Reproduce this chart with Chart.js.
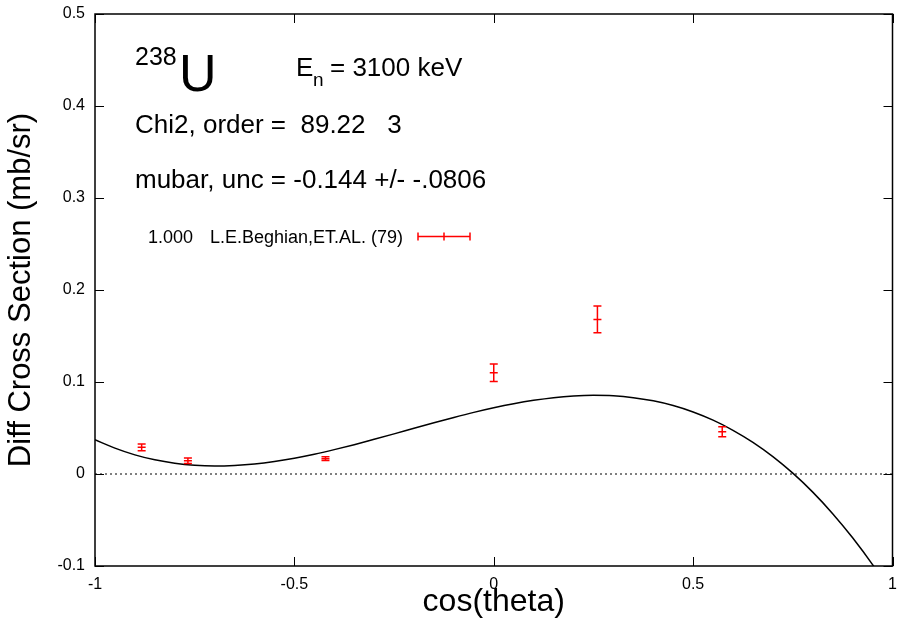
<!DOCTYPE html>
<html>
<head>
<meta charset="utf-8">
<script src="https://cdn.jsdelivr.net/npm/chart.js@4.4.0/dist/chart.umd.min.js"></script>
<style>
  html, body { margin: 0; padding: 0; background: #fff; }
  #wrap { width: 898px; height: 621px; }
</style>
</head>
<body>
<div id="wrap"><canvas id="legChart" width="898" height="621"></canvas></div>
<script>
// measured points (cos(theta), mb/sr, +/- unc)
const dataX = [-0.883, -0.767, -0.422, 0.0, 0.26, 0.573];
const dataY = [0.029, 0.0145, 0.0167, 0.110, 0.168, 0.046];
const dataErr = [0.0036, 0.003, 0.002, 0.0095, 0.0145, 0.0054];

// fitted curve
const fitX = [-1, -0.95, -0.9, -0.85, -0.8, -0.75, -0.7, -0.65, -0.6, -0.55, -0.5, -0.45, -0.4, -0.35, -0.3,
  -0.25, -0.2, -0.15, -0.1, -0.05, 0, 0.05, 0.1, 0.15, 0.2, 0.25, 0.3, 0.35, 0.4, 0.45, 0.5, 0.55, 0.6,
  0.65, 0.7, 0.75, 0.8, 0.85, 0.9, 0.95, 1.0];
const fitY = [0.0373, 0.0281, 0.0208, 0.0154, 0.0117, 0.0095, 0.0087, 0.0093, 0.0109, 0.0136, 0.0172,
  0.0215, 0.0265, 0.0319, 0.0377, 0.0436, 0.0497, 0.0557, 0.0615, 0.0670, 0.0720, 0.0764, 0.0801, 0.0830,
  0.0848, 0.0855, 0.0850, 0.0830, 0.0795, 0.0744, 0.0674, 0.0585, 0.0475, 0.0344, 0.0189, 0.0009,
  -0.0197, -0.0431, -0.0693, -0.0985, -0.1309];

const xTicks = [-1, -0.5, 0, 0.5, 1];
const yTicks = [-0.1, 0, 0.1, 0.2, 0.3, 0.4, 0.5];

const FONT = '"Liberation Sans", Arial, Helvetica, sans-serif';

const framePlugin = {
    id: 'frame',
    afterDatasetsDraw(chart) {
        const ctx = chart.ctx;
        const a = chart.chartArea;
        const xs = chart.scales.x, ys = chart.scales.y;
        ctx.save();

        // error bars
        ctx.strokeStyle = '#ff0000';
        ctx.lineWidth = 1.5;
        for (let i = 0; i < dataX.length; i++) {
            const px = xs.getPixelForValue(dataX[i]);
            const top = ys.getPixelForValue(dataY[i] + dataErr[i]);
            const bot = ys.getPixelForValue(dataY[i] - dataErr[i]);
            ctx.beginPath();
            ctx.moveTo(px, top); ctx.lineTo(px, bot);
            ctx.moveTo(px - 4, top); ctx.lineTo(px + 4, top);
            ctx.moveTo(px - 4, bot); ctx.lineTo(px + 4, bot);
            ctx.stroke();
        }

        // frame and inward ticks on all sides
        ctx.strokeStyle = '#000';
        ctx.lineWidth = 1.5;
        ctx.strokeRect(a.left, a.top, a.right - a.left, a.bottom - a.top);
        ctx.lineWidth = 1;
        ctx.beginPath();
        xTicks.forEach(v => {
            const px = Math.round(xs.getPixelForValue(v)) + 0.5;
            ctx.moveTo(px, a.bottom); ctx.lineTo(px, a.bottom - 9);
            ctx.moveTo(px, a.top); ctx.lineTo(px, a.top + 9);
        });
        yTicks.forEach(v => {
            const py = Math.round(ys.getPixelForValue(v)) + 0.5;
            ctx.moveTo(a.left, py); ctx.lineTo(a.left + 9, py);
            ctx.moveTo(a.right, py); ctx.lineTo(a.right - 9, py);
        });
        ctx.stroke();

        // annotations
        ctx.fillStyle = '#000';
        ctx.textBaseline = 'alphabetic';
        ctx.textAlign = 'left';
        ctx.font = '25px ' + FONT;
        ctx.fillText('238', 135, 65);
        ctx.font = '52px ' + FONT;
        ctx.fillText('U', 179, 91);
        ctx.font = '26px ' + FONT;
        ctx.fillText('E', 296, 76);
        ctx.font = '19px ' + FONT;
        ctx.fillText('n', 313, 86);
        ctx.font = '26px ' + FONT;
        ctx.fillText('= 3100 keV', 330, 76);
        ctx.fillText('Chi2, order =  89.22   3', 135, 133);
        ctx.fillText('mubar, unc = -0.144 +/- -.0806', 135, 188);

        // key
        ctx.font = '18px ' + FONT;
        ctx.fillText('1.000', 148, 243);
        ctx.textAlign = 'right';
        ctx.fillText('L.E.Beghian,ET.AL. (79)', 403, 243);
        ctx.strokeStyle = '#ff0000';
        ctx.lineWidth = 1.5;
        ctx.beginPath();
        ctx.moveTo(418, 236.5); ctx.lineTo(470, 236.5);
        ctx.moveTo(418, 232.5); ctx.lineTo(418, 240.5);
        ctx.moveTo(470, 232.5); ctx.lineTo(470, 240.5);
        ctx.moveTo(444, 232.5); ctx.lineTo(444, 240.5);
        ctx.stroke();
        ctx.restore();
    }
};

const ctx = document.getElementById('legChart').getContext('2d');
new Chart(ctx, {
    type: 'scatter',
    data: {
        datasets: [{
            label: 'zero',
            data: [{x: -1, y: 0}, {x: 1, y: 0}],
            showLine: true,
            borderColor: '#000',
            borderWidth: 1,
            borderDash: [2, 3],
            pointRadius: 0
        }, {
            label: 'fit',
            data: fitX.map((x, i) => ({x: x, y: fitY[i]})),
            showLine: true,
            borderColor: '#000',
            borderWidth: 1.5,
            cubicInterpolationMode: 'monotone',
            pointRadius: 0
        }, {
            label: 'L.E.Beghian,ET.AL. (79)',
            data: dataX.map((x, i) => ({x: x, y: dataY[i]})),
            pointStyle: 'line',
            pointRadius: 4,
            borderColor: '#ff0000',
            borderWidth: 1.5,
            backgroundColor: '#ff0000'
        }]
    },
    options: {
        responsive: false,
        animation: false,
        layout: { padding: { top: 14, right: 3, left: 0, bottom: 0 } },
        plugins: { legend: { display: false }, tooltip: { enabled: false } },
        scales: {
            x: {
                type: 'linear',
                min: -1, max: 1,
                afterFit(scale) { scale.height = 55; scale.paddingLeft = 0; scale.paddingRight = 0; },
                afterBuildTicks(scale) { scale.ticks = xTicks.map(v => ({value: v})); },
                grid: { display: false, drawTicks: false },
                border: { display: false },
                ticks: {
                    color: '#000',
                    padding: 9,
                    font: { family: FONT, size: 16 },
                    callback: v => String(v)
                },
                title: {
                    display: true,
                    text: 'cos(theta)',
                    color: '#000',
                    font: { family: FONT, size: 32 },
                    padding: { top: 0, bottom: 0 }
                }
            },
            y: {
                type: 'linear',
                min: -0.1, max: 0.5,
                afterFit(scale) { scale.width = 95; scale.paddingTop = 0; scale.paddingBottom = 0; },
                afterBuildTicks(scale) { scale.ticks = yTicks.map(v => ({value: v})); },
                grid: { display: false, drawTicks: false },
                border: { display: false },
                ticks: {
                    color: '#000',
                    padding: 10,
                    font: { family: FONT, size: 16 },
                    callback: v => String(v)
                },
                title: {
                    display: true,
                    text: 'Diff Cross Section (mb/sr)',
                    color: '#000',
                    font: { family: FONT, size: 31 },
                    padding: { top: 3, bottom: 0 }
                }
            }
        }
    },
    plugins: [framePlugin]
});
</script>
</body>
</html>
